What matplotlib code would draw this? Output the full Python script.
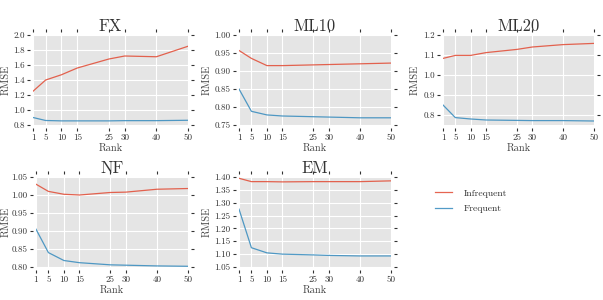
import matplotlib
matplotlib.use("Agg")
import matplotlib.pyplot as plt

plt.style.use("ggplot")
plt.rcParams['font.family'] = 'serif'
plt.rcParams['font.serif'] = ['cmr10', 'DejaVu Serif']
plt.rcParams['mathtext.fontset'] = 'cm'
plt.rcParams['axes.formatter.use_mathtext'] = True

ranks = [1, 5, 10, 15, 25, 30, 40, 50]
titles = ["FX", "ML10", "ML20", "NF", "EM"]

infrequent = {
    "FX":   [1.25, 1.40, 1.47, 1.56, 1.68, 1.72, 1.71, 1.85],
    "ML10": [0.957, 0.935, 0.915, 0.915, 0.917, 0.918, 0.920, 0.922],
    "ML20": [1.083, 1.098, 1.098, 1.112, 1.128, 1.140, 1.152, 1.158],
    "NF":   [1.030, 1.010, 1.002, 1.000, 1.007, 1.008, 1.016, 1.018],
    "EM":   [1.395, 1.382, 1.382, 1.381, 1.382, 1.382, 1.382, 1.385],
}
frequent = {
    "FX":   [0.90, 0.86, 0.855, 0.855, 0.855, 0.858, 0.858, 0.863],
    "ML10": [0.850, 0.788, 0.778, 0.775, 0.773, 0.772, 0.770, 0.770],
    "ML20": [0.850, 0.787, 0.780, 0.775, 0.773, 0.772, 0.772, 0.770],
    "NF":   [0.905, 0.840, 0.818, 0.812, 0.806, 0.805, 0.803, 0.802],
    "EM":   [1.275, 1.125, 1.105, 1.100, 1.097, 1.095, 1.093, 1.093],
}
ylims = {"FX": (0.8, 2.0), "ML10": (0.75, 1.0), "ML20": (0.75, 1.2),
         "NF": (0.8, 1.05), "EM": (1.05, 1.40)}
yticks = {
    "FX": [0.8, 1.0, 1.2, 1.4, 1.6, 1.8, 2.0],
    "ML10": [0.75, 0.80, 0.85, 0.90, 0.95, 1.00],
    "ML20": [0.8, 0.9, 1.0, 1.1, 1.2],
    "NF": [0.80, 0.85, 0.90, 0.95, 1.00, 1.05],
    "EM": [1.05, 1.10, 1.15, 1.20, 1.25, 1.30, 1.35, 1.40],
}
yfmt = {"FX": "%.1f", "ML10": "%.2f", "ML20": "%.1f", "NF": "%.2f", "EM": "%.2f"}
xlabel = "Rank"
ylabel = "RMSE"
series_names = ["Infrequent", "Frequent"]

fig = plt.figure(figsize=(6.03, 3.0), dpi=100)
W, H = 603, 300
pos = {
    "FX": (33, 35, 188, 125),
    "ML10": (239, 35, 391, 125),
    "ML20": (443, 35, 594, 125),
    "NF": (36, 177, 188, 267),
    "EM": (239, 177, 391, 267),
}
handles = None
for t in titles:
    l, tp, r, b = pos[t]
    ax = fig.add_axes([l / W, 1 - b / H, (r - l) / W, (b - tp) / H])
    h1, = ax.plot(ranks, infrequent[t], color="#E24A33", lw=0.9, alpha=0.85, label=series_names[0])
    h2, = ax.plot(ranks, frequent[t], color="#348ABD", lw=0.9, alpha=0.85, label=series_names[1])
    handles = [h1, h2]
    ax.set_xlim(1, 50)
    ax.set_ylim(*ylims[t])
    ax.set_xticks(ranks)
    ax.set_xticklabels([str(v) for v in ranks])
    ax.set_yticks(yticks[t])
    ax.set_yticklabels([yfmt[t] % v for v in yticks[t]])
    ax.set_title(t, fontsize=12, pad=3, color="#333333")
    ax.set_xlabel(xlabel, fontsize=7.5, labelpad=1, color="#444444")
    ax.set_ylabel(ylabel, fontsize=7.5, labelpad=(0.5 if t == "NF" else 2), color="#444444")
    for s in ax.spines.values():
        s.set_visible(False)
        s.set_position(("outward", 2))
    ax.tick_params(axis="both", which="both", direction="out", length=2.5, width=0.8,
                   labelsize=6.5, colors="#333333", top=True, right=True,
                   labeltop=False, labelright=False, pad=1.5)
    ax.grid(True, color="white", lw=0.8)

lax = fig.add_axes([431 / W, 1 - 265 / H, 170 / W, 80 / H])
lax.axis("off")
lax.legend(handles, series_names, loc="upper left", frameon=False,
           fontsize=7, handlelength=1.8, handletextpad=1.2, borderaxespad=0.0,
           labelspacing=0.7, labelcolor="#333333")

fig.savefig("out.png", dpi=100, facecolor="white")
